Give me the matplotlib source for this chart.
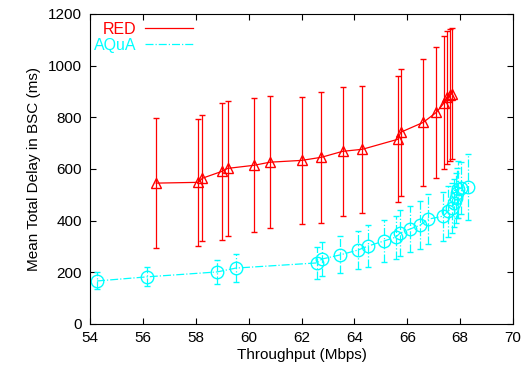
import matplotlib
matplotlib.use("Agg")
import matplotlib.pyplot as plt
from matplotlib.lines import Line2D

# --- dados ---
red_x = [56.5, 58.1, 58.25, 59.0, 59.2, 60.2, 60.8, 62.0, 62.75, 63.55, 64.3,
         65.65, 65.75, 66.6, 67.1, 67.4, 67.5, 67.6, 67.7]
red_y = [545, 548, 564, 591, 602, 614, 626, 633, 645, 668, 676,
         715, 742, 780, 819, 857, 877, 885, 892]
red_err = [251, 245, 243, 265, 260, 260, 255, 245, 253, 251, 247,
           245, 245, 245, 255, 258, 259, 256, 255]

aqua_x = [54.26, 56.16, 58.8, 59.52, 62.59, 62.77, 63.46, 64.14, 64.51, 65.12,
          65.57, 65.72, 66.1, 66.48, 66.78, 67.35, 67.54, 67.69, 67.77, 67.84,
          67.88, 67.92, 68.03, 68.3]
aqua_y = [166, 182, 201, 216, 236, 251, 267, 286, 301, 321,
          336, 351, 367, 382, 405, 417, 436, 448, 467, 487,
          506, 521, 525, 529]
aqua_err = [33, 37, 48, 54, 62, 65, 72, 74, 80, 82,
            83, 90, 89, 92, 97, 95, 98, 96, 92, 98,
            98, 110, 100, 127]

RED = '#ff0000'
AQUA = '#00ffff'

plt.rcParams['font.family'] = ['Liberation Sans', 'DejaVu Sans']

fig = plt.figure(figsize=(5.30, 3.68), dpi=100)
ax = fig.add_axes([0.170, 0.120, 0.798, 0.842])

# RED
eb = ax.errorbar(red_x, red_y, yerr=red_err, color=RED, linestyle='-', linewidth=0.9,
                 marker='^', markersize=7, markerfacecolor='none', markeredgecolor=RED,
                 markeredgewidth=1.0, elinewidth=0.9, capsize=2.5, capthick=0.9)

# AQuA
eb2 = ax.errorbar(aqua_x, aqua_y, yerr=aqua_err, color=AQUA, linestyle='-.', linewidth=0.9,
                  marker='o', markersize=9, markerfacecolor='none', markeredgecolor=AQUA,
                  markeredgewidth=1.0, elinewidth=0.9, capsize=2, capthick=0.9)
for lc in eb2[2]:
    lc.set_linestyle('-.')

ax.set_xlim(54, 70)
ax.set_ylim(0, 1200)
ax.set_xticks(range(54, 71, 2))
ax.set_yticks(range(0, 1201, 200))
ax.tick_params(direction='in', top=True, right=True, length=4, labelsize=11)
ax.tick_params(axis='x', pad=5)
ax.tick_params(axis='y', pad=6)
ax.set_xlabel('Throughput (Mbps)', fontsize=11, labelpad=2)
ax.set_ylabel('Mean Total Delay in BSC (ms)', fontsize=11, labelpad=5)

# legenda estilo gnuplot: texto à esquerda, linha à direita
handles = [Line2D([], [], color=RED, linestyle='-', linewidth=0.9),
           Line2D([], [], color=AQUA, linestyle='-.', linewidth=0.9)]
leg = ax.legend(handles, ['RED', 'AQuA'], loc='upper left', markerfirst=False,
                frameon=False, fontsize=11.5, handlelength=3.0, handletextpad=0.5,
                labelspacing=0.05, borderaxespad=0.0, bbox_to_anchor=(-0.005, 0.995))
for txt, c in zip(leg.get_texts(), [RED, AQUA]):
    txt.set_color(c)

fig.savefig('out.png', dpi=100)
